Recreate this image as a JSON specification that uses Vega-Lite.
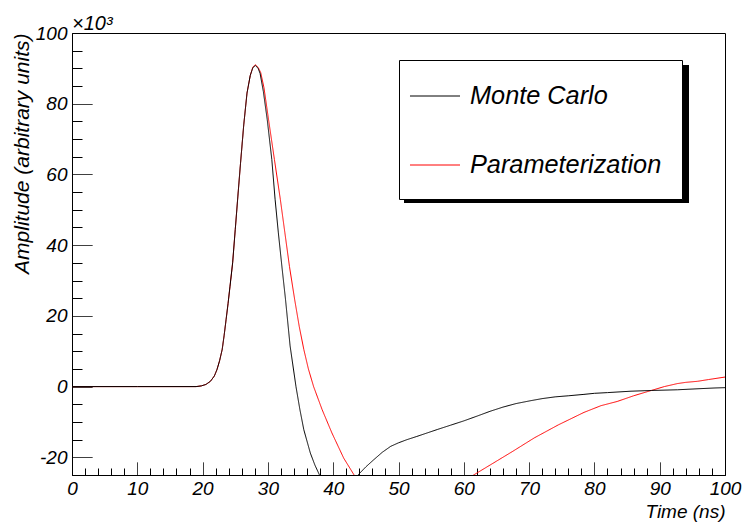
{
 "$schema": "https://vega.github.io/schema/vega-lite/v6.json",
 "width": 653, "height": 442,
 "autosize": "none",
 "padding": {"left": 72, "top": 33, "right": 17, "bottom": 49},
 "background": "white",
 "config": {"view": {"stroke": "black", "strokeWidth": 1}},
 "title": {"text": "×10³", "anchor": "start", "frame": "group", "offset": -10, "font": "Liberation Sans", "fontStyle": "italic", "fontWeight": "normal", "fontSize": 20, "color": "black"},
 "data": {"values": [
  {"t":0,"amp":0,"series":"Monte Carlo"},{"t":10,"amp":0,"series":"Monte Carlo"},{"t":19,"amp":0,"series":"Monte Carlo"},{"t":19.8,"amp":0.2,"series":"Monte Carlo"},{"t":20.5,"amp":0.6,"series":"Monte Carlo"},{"t":21.2,"amp":1.5,"series":"Monte Carlo"},{"t":21.8,"amp":3,"series":"Monte Carlo"},{"t":22.2,"amp":4.8,"series":"Monte Carlo"},{"t":22.6,"amp":7.3,"series":"Monte Carlo"},{"t":23.0,"amp":10.5,"series":"Monte Carlo"},{"t":23.3,"amp":14.5,"series":"Monte Carlo"},{"t":23.6,"amp":19,"series":"Monte Carlo"},{"t":23.9,"amp":23.5,"series":"Monte Carlo"},{"t":24.2,"amp":28.4,"series":"Monte Carlo"},{"t":24.6,"amp":35,"series":"Monte Carlo"},{"t":25.0,"amp":44.4,"series":"Monte Carlo"},{"t":25.4,"amp":53.8,"series":"Monte Carlo"},{"t":25.8,"amp":63,"series":"Monte Carlo"},{"t":26.3,"amp":74,"series":"Monte Carlo"},{"t":26.8,"amp":83,"series":"Monte Carlo"},{"t":27.3,"amp":88,"series":"Monte Carlo"},{"t":27.7,"amp":90.2,"series":"Monte Carlo"},{"t":28.1,"amp":90.8,"series":"Monte Carlo"},{"t":28.5,"amp":90,"series":"Monte Carlo"},{"t":28.8,"amp":88.6,"series":"Monte Carlo"},{"t":29.3,"amp":83.5,"series":"Monte Carlo"},{"t":29.9,"amp":75.5,"series":"Monte Carlo"},{"t":30.6,"amp":64.2,"series":"Monte Carlo"},{"t":31.1,"amp":53,"series":"Monte Carlo"},{"t":31.6,"amp":43.5,"series":"Monte Carlo"},{"t":32.2,"amp":33,"series":"Monte Carlo"},{"t":32.7,"amp":24.6,"series":"Monte Carlo"},{"t":33.4,"amp":11.5,"series":"Monte Carlo"},{"t":34.3,"amp":0,"series":"Monte Carlo"},{"t":34.9,"amp":-6.5,"series":"Monte Carlo"},{"t":35.5,"amp":-12.2,"series":"Monte Carlo"},{"t":36.5,"amp":-18.8,"series":"Monte Carlo"},{"t":37.2,"amp":-22.2,"series":"Monte Carlo"},{"t":37.9,"amp":-25,"series":"Monte Carlo"},{"t":38.7,"amp":-27.5,"series":"Monte Carlo"},{"t":39.7,"amp":-29.5,"series":"Monte Carlo"},{"t":40.7,"amp":-30.3,"series":"Monte Carlo"},{"t":41.7,"amp":-29.8,"series":"Monte Carlo"},{"t":42.7,"amp":-27.8,"series":"Monte Carlo"},{"t":43.8,"amp":-25,"series":"Monte Carlo"},{"t":45,"amp":-22.7,"series":"Monte Carlo"},{"t":46.2,"amp":-20.7,"series":"Monte Carlo"},{"t":47.5,"amp":-18.6,"series":"Monte Carlo"},{"t":48.8,"amp":-16.9,"series":"Monte Carlo"},{"t":50,"amp":-15.9,"series":"Monte Carlo"},{"t":51.3,"amp":-15,"series":"Monte Carlo"},{"t":52.8,"amp":-14.1,"series":"Monte Carlo"},{"t":54.4,"amp":-13.1,"series":"Monte Carlo"},{"t":56,"amp":-12.1,"series":"Monte Carlo"},{"t":58,"amp":-10.9,"series":"Monte Carlo"},{"t":60,"amp":-9.7,"series":"Monte Carlo"},{"t":62.1,"amp":-8.3,"series":"Monte Carlo"},{"t":64,"amp":-7.0,"series":"Monte Carlo"},{"t":66,"amp":-5.8,"series":"Monte Carlo"},{"t":68,"amp":-4.8,"series":"Monte Carlo"},{"t":70.2,"amp":-4.0,"series":"Monte Carlo"},{"t":72,"amp":-3.4,"series":"Monte Carlo"},{"t":74,"amp":-2.9,"series":"Monte Carlo"},{"t":76,"amp":-2.6,"series":"Monte Carlo"},{"t":78.4,"amp":-2.2,"series":"Monte Carlo"},{"t":80,"amp":-1.9,"series":"Monte Carlo"},{"t":82,"amp":-1.7,"series":"Monte Carlo"},{"t":85.6,"amp":-1.3,"series":"Monte Carlo"},{"t":88.7,"amp":-1.1,"series":"Monte Carlo"},{"t":92.7,"amp":-0.9,"series":"Monte Carlo"},{"t":96,"amp":-0.6,"series":"Monte Carlo"},{"t":98.3,"amp":-0.4,"series":"Monte Carlo"},{"t":100,"amp":-0.3,"series":"Monte Carlo"},
  {"t":0,"amp":0,"series":"Parameterization"},{"t":10,"amp":0,"series":"Parameterization"},{"t":19,"amp":0,"series":"Parameterization"},{"t":19.8,"amp":0.2,"series":"Parameterization"},{"t":20.5,"amp":0.6,"series":"Parameterization"},{"t":21.2,"amp":1.5,"series":"Parameterization"},{"t":21.8,"amp":3,"series":"Parameterization"},{"t":22.2,"amp":4.8,"series":"Parameterization"},{"t":22.6,"amp":7.3,"series":"Parameterization"},{"t":23.0,"amp":10.5,"series":"Parameterization"},{"t":23.3,"amp":14.5,"series":"Parameterization"},{"t":23.6,"amp":19,"series":"Parameterization"},{"t":23.9,"amp":23.5,"series":"Parameterization"},{"t":24.2,"amp":28.4,"series":"Parameterization"},{"t":24.6,"amp":35,"series":"Parameterization"},{"t":25.0,"amp":44.4,"series":"Parameterization"},{"t":25.4,"amp":53.8,"series":"Parameterization"},{"t":25.8,"amp":63,"series":"Parameterization"},{"t":26.3,"amp":74,"series":"Parameterization"},{"t":26.8,"amp":83,"series":"Parameterization"},{"t":27.3,"amp":88,"series":"Parameterization"},{"t":27.7,"amp":90.4,"series":"Parameterization"},{"t":28.1,"amp":91,"series":"Parameterization"},{"t":28.5,"amp":90.3,"series":"Parameterization"},{"t":28.9,"amp":88.8,"series":"Parameterization"},{"t":29.4,"amp":84.5,"series":"Parameterization"},{"t":30.1,"amp":75.5,"series":"Parameterization"},{"t":31.0,"amp":64.2,"series":"Parameterization"},{"t":31.9,"amp":53,"series":"Parameterization"},{"t":32.6,"amp":43.5,"series":"Parameterization"},{"t":33.3,"amp":34,"series":"Parameterization"},{"t":34.1,"amp":24.6,"series":"Parameterization"},{"t":34.8,"amp":17,"series":"Parameterization"},{"t":35.5,"amp":10.5,"series":"Parameterization"},{"t":36.2,"amp":5,"series":"Parameterization"},{"t":37.0,"amp":0,"series":"Parameterization"},{"t":38.3,"amp":-6.5,"series":"Parameterization"},{"t":39.8,"amp":-13.1,"series":"Parameterization"},{"t":41.6,"amp":-20.2,"series":"Parameterization"},{"t":43.2,"amp":-25,"series":"Parameterization"},{"t":45,"amp":-29.5,"series":"Parameterization"},{"t":47,"amp":-32.5,"series":"Parameterization"},{"t":50,"amp":-35,"series":"Parameterization"},{"t":53,"amp":-35.5,"series":"Parameterization"},{"t":56,"amp":-33.5,"series":"Parameterization"},{"t":59,"amp":-29.5,"series":"Parameterization"},{"t":61.5,"amp":-25,"series":"Parameterization"},{"t":64.1,"amp":-22.1,"series":"Parameterization"},{"t":67.5,"amp":-18.3,"series":"Parameterization"},{"t":70.8,"amp":-14.5,"series":"Parameterization"},{"t":74.5,"amp":-10.8,"series":"Parameterization"},{"t":78.4,"amp":-7.3,"series":"Parameterization"},{"t":81,"amp":-5.4,"series":"Parameterization"},{"t":83.5,"amp":-4.2,"series":"Parameterization"},{"t":86,"amp":-2.6,"series":"Parameterization"},{"t":88.7,"amp":-1.1,"series":"Parameterization"},{"t":90.7,"amp":0,"series":"Parameterization"},{"t":92.7,"amp":0.85,"series":"Parameterization"},{"t":94,"amp":1.2,"series":"Parameterization"},{"t":95.8,"amp":1.5,"series":"Parameterization"},{"t":97.5,"amp":2,"series":"Parameterization"},{"t":100,"amp":2.7,"series":"Parameterization"}
 ]},
 "layer": [
  {
   "transform": [{"filter": "datum.series === 'Parameterization'"}],
   "mark": {"type": "line", "clip": true, "strokeWidth": 1}
  },
  {
   "transform": [{"filter": "datum.series === 'Monte Carlo'"}],
   "mark": {"type": "line", "clip": true, "strokeWidth": 1}
  }
 ],
 "encoding": {
  "x": {"field": "t", "type": "quantitative",
   "scale": {"domain": [0, 100], "nice": false, "zero": false},
   "axis": {"values": [0,2,4,6,8,10,12,14,16,18,20,22,24,26,28,30,32,34,36,38,40,42,44,46,48,50,52,54,56,58,60,62,64,66,68,70,72,74,76,78,80,82,84,86,88,90,92,94,96,98,100],
    "tickSize": -13,
    "tickDash": {"condition": {"test": "datum.value % 10 !== 0", "value": [7, 50]}, "value": [1, 0]},
    "labelExpr": "datum.value % 10 === 0 ? '' + datum.value : ''",
    "labelPadding": 17, "labelFlush": false, "labelOverlap": false, "grid": false,
    "domainColor": "black", "tickColor": "black", "labelColor": "black",
    "labelFont": "Liberation Sans", "labelFontStyle": "italic", "labelFontSize": 19,
    "title": "Time (ns)", "titleAlign": "right", "titleX": 653, "titleY": 42, "titleBaseline": "alphabetic",
    "titleFont": "Liberation Sans", "titleFontStyle": "italic", "titleFontWeight": "normal", "titleFontSize": 19, "titleColor": "black"}},
  "y": {"field": "amp", "type": "quantitative",
   "scale": {"domain": [-25, 100], "nice": false, "zero": false},
   "axis": {"values": [-20,-15,-10,-5,0,5,10,15,20,25,30,35,40,45,50,55,60,65,70,75,80,85,90,95,100],
    "tickSize": -20,
    "tickDash": {"condition": {"test": "datum.value % 20 !== 0", "value": [10, 50]}, "value": [1, 0]},
    "labelExpr": "datum.value % 20 === 0 ? '' + datum.value : ''",
    "labelPadding": 25, "labelFlush": false, "labelOverlap": false, "grid": false,
    "domainColor": "black", "tickColor": "black", "labelColor": "black",
    "labelFont": "Liberation Sans", "labelFontStyle": "italic", "labelFontSize": 19,
    "title": "Amplitude (arbitrary units)", "titleAngle": -90, "titleAlign": "right", "titleX": -50, "titleY": 0, "titleBaseline": "middle",
    "titleFont": "Liberation Sans", "titleFontStyle": "italic", "titleFontWeight": "normal", "titleFontSize": 21, "titleColor": "black"}},
  "color": {"field": "series", "type": "nominal",
   "scale": {"range": ["black", "red"]},
   "legend": {"orient": "none", "legendX": 327, "legendY": 27, "title": null, "fillColor": "white", "strokeColor": "black", "padding": 20,
    "symbolType": "M-1.613,0H1.613", "symbolSize": 961, "symbolStrokeWidth": 1, "labelFont": "Liberation Sans", "labelFontStyle": "italic", "labelFontSize": 25.3, "labelColor": "black", "labelOffset": 19, "labelLimit": 400, "rowPadding": 39, "zindex": 2}},
  "strokeDash": {"field": "series", "type": "nominal",
   "scale": {"domain": ["Monte Carlo", "Parameterization"], "range": [[1, 0], [1, 0]]},
   "legend": {"orient": "none", "legendX": 332, "legendY": 32, "title": null, "values": ["Monte Carlo"], "padding": 0,
    "symbolType": "M-1,-1H1V-0.032H-1Z", "symbolSize": 81225, "symbolStrokeWidth": 0, "symbolFillColor": "black", "symbolStrokeColor": "black", "symbolOpacity": 1,
    "labelExpr": "''", "labelOffset": 0, "zindex": 1}}
 }
}
